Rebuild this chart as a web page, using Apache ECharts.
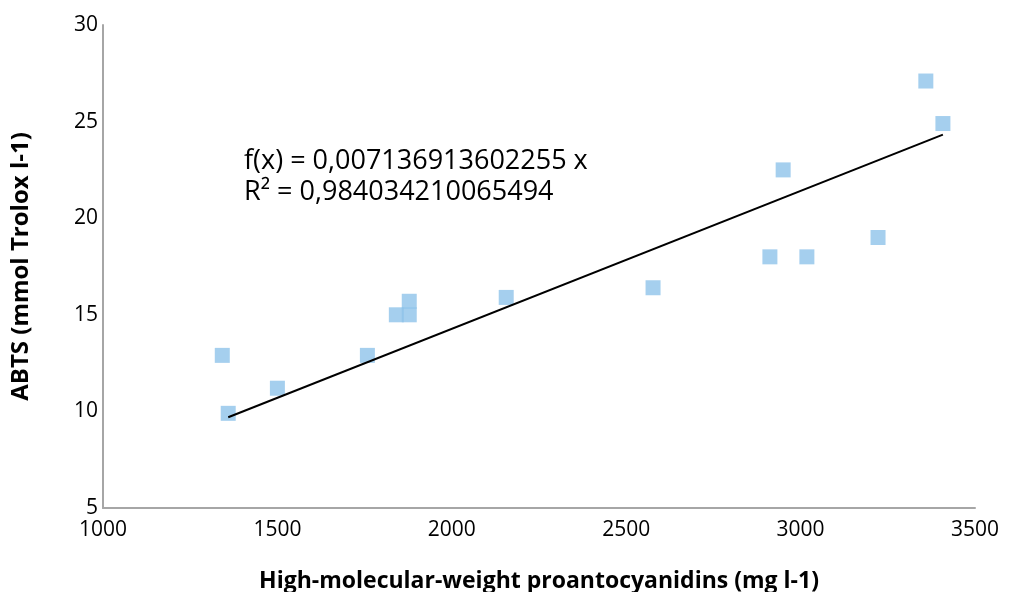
<!DOCTYPE html>
<html>
<head>
<meta charset="utf-8">
<script src="https://cdn.jsdelivr.net/npm/echarts@6/dist/echarts.min.js"></script>
<style>
  html, body { margin: 0; padding: 0; background: #fff; }
  #chart { width: 1010px; height: 592px; }
</style>
</head>
<body>
<div id="chart"></div>
<script>
// measured points (x = proantocyanidins mg l-1, y = ABTS mmol Trolox l-1)
var xValues = [1342, 1359, 1500, 1758, 1841, 1878, 1878, 2156, 2577, 2912, 2950, 3018, 3222, 3359, 3408];
var yValues = [12.9, 9.9, 11.2, 12.9, 15.0, 15.7, 15.0, 15.9, 16.4, 18.0, 22.5, 18.0, 19.0, 27.1, 24.9];
// trend line through origin, drawn over the data range
var slope = 0.007136913602255;
var trendX = [1359, 3408];
var equationLines = ["f(x) = 0,007136913602255 x", "R² = 0,984034210065494"];

var font = "'Open Sans', 'Liberation Sans', sans-serif";

var points = xValues.map(function (x, i) { return [x, yValues[i]]; });
var trend = trendX.map(function (x) { return [x, slope * x]; });

var chart = echarts.init(document.getElementById("chart"));
var option = {
  animation: false,
  grid: { left: 103, right: 35, top: 25, bottom: 84, outerBoundsMode: "none" },
  xAxis: {
    type: "value",
    min: 1000,
    max: 3500,
    interval: 500,
    name: "High-molecular-weight proantocyanidins (mg l-1)",
    nameLocation: "middle",
    nameGap: 62,
    nameTextStyle: { fontFamily: font, fontWeight: "bold", fontSize: 23, color: "#000" },
    axisLine: { show: true, lineStyle: { color: "#a6a6a6", width: 2 } },
    axisTick: { show: false },
    splitLine: { show: false },
    axisLabel: {
      fontFamily: font, fontSize: 21, color: "#000", margin: 12,
      formatter: function (v) { return String(v); }
    }
  },
  yAxis: {
    type: "value",
    min: 5,
    max: 30,
    interval: 5,
    name: "ABTS (mmol Trolox l-1)",
    nameLocation: "middle",
    nameGap: 70,
    nameTextStyle: { fontFamily: font, fontWeight: "bold", fontSize: 24, color: "#000" },
    axisLine: { show: true, lineStyle: { color: "#a6a6a6", width: 2 } },
    axisTick: { show: false },
    splitLine: { show: false },
    axisLabel: { fontFamily: font, fontSize: 21, color: "#000", margin: 5 }
  },
  series: [
    {
      type: "line",
      data: trend,
      symbol: "none",
      lineStyle: { color: "#000", width: 2 },
      z: 3
    },
    {
      type: "scatter",
      data: points,
      symbol: "rect",
      symbolSize: 15,
      itemStyle: { color: "#8ec3ea" },
      z: 2
    }
  ],
  graphic: [
    {
      type: "text",
      left: 244,
      top: 146,
      style: {
        text: equationLines.join("\n"),
        font: "27px " + font,
        fill: "#000",
        lineHeight: 31
      }
    }
  ]
};
chart.setOption(option);
</script>
</body>
</html>
